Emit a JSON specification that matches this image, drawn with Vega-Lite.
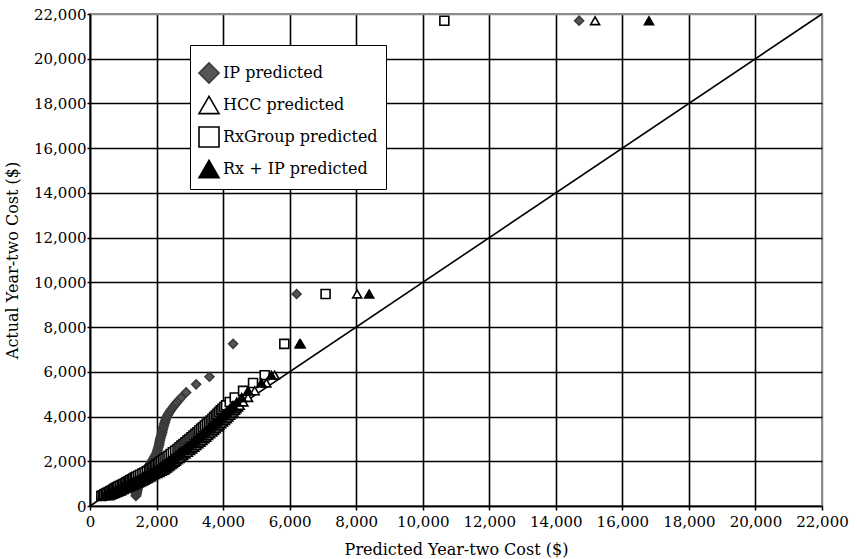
{
  "$schema": "https://vega.github.io/schema/vega-lite/v6.json",
  "width": 732,
  "height": 492,
  "autosize": {"type": "none"},
  "padding": {"left": 90, "top": 14, "right": 35, "bottom": 53},
  "background": "white",
  "config": {
    "font": "DejaVu Serif",
    "view": {"stroke": "#8c8c8c", "strokeWidth": 2}
  },
  "datasets": {
    "diag": [{"predicted": 0, "actual": 0}, {"predicted": 22000, "actual": 22000}],
    "pts": [
      {"series": "IP predicted", "actual": 450, "predicted": 1380},
      {"series": "IP predicted", "actual": 485, "predicted": 1385},
      {"series": "IP predicted", "actual": 520, "predicted": 1390},
      {"series": "IP predicted", "actual": 555, "predicted": 1395},
      {"series": "IP predicted", "actual": 590, "predicted": 1400},
      {"series": "IP predicted", "actual": 625, "predicted": 1405},
      {"series": "IP predicted", "actual": 660, "predicted": 1410},
      {"series": "IP predicted", "actual": 695, "predicted": 1415},
      {"series": "IP predicted", "actual": 730, "predicted": 1420},
      {"series": "IP predicted", "actual": 765, "predicted": 1425},
      {"series": "IP predicted", "actual": 800, "predicted": 1430},
      {"series": "IP predicted", "actual": 835, "predicted": 1435},
      {"series": "IP predicted", "actual": 870, "predicted": 1440},
      {"series": "IP predicted", "actual": 905, "predicted": 1445},
      {"series": "IP predicted", "actual": 940, "predicted": 1450},
      {"series": "IP predicted", "actual": 975, "predicted": 1457},
      {"series": "IP predicted", "actual": 1010, "predicted": 1465},
      {"series": "IP predicted", "actual": 1045, "predicted": 1472},
      {"series": "IP predicted", "actual": 1080, "predicted": 1480},
      {"series": "IP predicted", "actual": 1115, "predicted": 1490},
      {"series": "IP predicted", "actual": 1150, "predicted": 1500},
      {"series": "IP predicted", "actual": 1190, "predicted": 1515},
      {"series": "IP predicted", "actual": 1230, "predicted": 1530},
      {"series": "IP predicted", "actual": 1270, "predicted": 1545},
      {"series": "IP predicted", "actual": 1310, "predicted": 1560},
      {"series": "IP predicted", "actual": 1355, "predicted": 1580},
      {"series": "IP predicted", "actual": 1400, "predicted": 1600},
      {"series": "IP predicted", "actual": 1450, "predicted": 1620},
      {"series": "IP predicted", "actual": 1500, "predicted": 1640},
      {"series": "IP predicted", "actual": 1550, "predicted": 1665},
      {"series": "IP predicted", "actual": 1600, "predicted": 1690},
      {"series": "IP predicted", "actual": 1650, "predicted": 1710},
      {"series": "IP predicted", "actual": 1700, "predicted": 1730},
      {"series": "IP predicted", "actual": 1750, "predicted": 1750},
      {"series": "IP predicted", "actual": 1800, "predicted": 1770},
      {"series": "IP predicted", "actual": 1850, "predicted": 1795},
      {"series": "IP predicted", "actual": 1900, "predicted": 1820},
      {"series": "IP predicted", "actual": 1950, "predicted": 1840},
      {"series": "IP predicted", "actual": 2000, "predicted": 1860},
      {"series": "IP predicted", "actual": 2060, "predicted": 1885},
      {"series": "IP predicted", "actual": 2120, "predicted": 1910},
      {"series": "IP predicted", "actual": 2185, "predicted": 1935},
      {"series": "IP predicted", "actual": 2250, "predicted": 1960},
      {"series": "IP predicted", "actual": 2325, "predicted": 1985},
      {"series": "IP predicted", "actual": 2400, "predicted": 2010},
      {"series": "IP predicted", "actual": 2475, "predicted": 2025},
      {"series": "IP predicted", "actual": 2550, "predicted": 2040},
      {"series": "IP predicted", "actual": 2625, "predicted": 2055},
      {"series": "IP predicted", "actual": 2700, "predicted": 2070},
      {"series": "IP predicted", "actual": 2775, "predicted": 2080},
      {"series": "IP predicted", "actual": 2850, "predicted": 2090},
      {"series": "IP predicted", "actual": 2925, "predicted": 2100},
      {"series": "IP predicted", "actual": 3000, "predicted": 2110},
      {"series": "IP predicted", "actual": 3075, "predicted": 2125},
      {"series": "IP predicted", "actual": 3150, "predicted": 2140},
      {"series": "IP predicted", "actual": 3225, "predicted": 2155},
      {"series": "IP predicted", "actual": 3300, "predicted": 2170},
      {"series": "IP predicted", "actual": 3375, "predicted": 2180},
      {"series": "IP predicted", "actual": 3450, "predicted": 2190},
      {"series": "IP predicted", "actual": 3525, "predicted": 2205},
      {"series": "IP predicted", "actual": 3600, "predicted": 2220},
      {"series": "IP predicted", "actual": 3675, "predicted": 2235},
      {"series": "IP predicted", "actual": 3750, "predicted": 2250},
      {"series": "IP predicted", "actual": 3825, "predicted": 2265},
      {"series": "IP predicted", "actual": 3900, "predicted": 2280},
      {"series": "IP predicted", "actual": 3975, "predicted": 2305},
      {"series": "IP predicted", "actual": 4050, "predicted": 2330},
      {"series": "IP predicted", "actual": 4125, "predicted": 2360},
      {"series": "IP predicted", "actual": 4200, "predicted": 2390},
      {"series": "IP predicted", "actual": 4275, "predicted": 2425},
      {"series": "IP predicted", "actual": 4350, "predicted": 2460},
      {"series": "IP predicted", "actual": 4425, "predicted": 2500},
      {"series": "IP predicted", "actual": 4500, "predicted": 2540},
      {"series": "IP predicted", "actual": 4575, "predicted": 2580},
      {"series": "IP predicted", "actual": 4650, "predicted": 2620},
      {"series": "IP predicted", "actual": 4750, "predicted": 2680},
      {"series": "IP predicted", "actual": 4850, "predicted": 2740},
      {"series": "IP predicted", "actual": 5080, "predicted": 2890},
      {"series": "IP predicted", "actual": 5440, "predicted": 3190},
      {"series": "IP predicted", "actual": 5780, "predicted": 3590},
      {"series": "IP predicted", "actual": 7250, "predicted": 4300},
      {"series": "IP predicted", "actual": 9480, "predicted": 6210},
      {"series": "IP predicted", "actual": 21700, "predicted": 14700},

      {"series": "RxGroup predicted", "actual": 450, "predicted": 340},
      {"series": "RxGroup predicted", "actual": 485, "predicted": 385},
      {"series": "RxGroup predicted", "actual": 520, "predicted": 430},
      {"series": "RxGroup predicted", "actual": 555, "predicted": 475},
      {"series": "RxGroup predicted", "actual": 590, "predicted": 520},
      {"series": "RxGroup predicted", "actual": 625, "predicted": 565},
      {"series": "RxGroup predicted", "actual": 660, "predicted": 610},
      {"series": "RxGroup predicted", "actual": 695, "predicted": 650},
      {"series": "RxGroup predicted", "actual": 730, "predicted": 690},
      {"series": "RxGroup predicted", "actual": 765, "predicted": 730},
      {"series": "RxGroup predicted", "actual": 800, "predicted": 770},
      {"series": "RxGroup predicted", "actual": 835, "predicted": 810},
      {"series": "RxGroup predicted", "actual": 870, "predicted": 850},
      {"series": "RxGroup predicted", "actual": 905, "predicted": 900},
      {"series": "RxGroup predicted", "actual": 940, "predicted": 950},
      {"series": "RxGroup predicted", "actual": 975, "predicted": 995},
      {"series": "RxGroup predicted", "actual": 1010, "predicted": 1040},
      {"series": "RxGroup predicted", "actual": 1045, "predicted": 1085},
      {"series": "RxGroup predicted", "actual": 1080, "predicted": 1130},
      {"series": "RxGroup predicted", "actual": 1115, "predicted": 1170},
      {"series": "RxGroup predicted", "actual": 1150, "predicted": 1210},
      {"series": "RxGroup predicted", "actual": 1190, "predicted": 1255},
      {"series": "RxGroup predicted", "actual": 1230, "predicted": 1300},
      {"series": "RxGroup predicted", "actual": 1270, "predicted": 1345},
      {"series": "RxGroup predicted", "actual": 1310, "predicted": 1390},
      {"series": "RxGroup predicted", "actual": 1355, "predicted": 1450},
      {"series": "RxGroup predicted", "actual": 1400, "predicted": 1510},
      {"series": "RxGroup predicted", "actual": 1450, "predicted": 1575},
      {"series": "RxGroup predicted", "actual": 1500, "predicted": 1640},
      {"series": "RxGroup predicted", "actual": 1550, "predicted": 1705},
      {"series": "RxGroup predicted", "actual": 1600, "predicted": 1770},
      {"series": "RxGroup predicted", "actual": 1650, "predicted": 1815},
      {"series": "RxGroup predicted", "actual": 1700, "predicted": 1860},
      {"series": "RxGroup predicted", "actual": 1750, "predicted": 1905},
      {"series": "RxGroup predicted", "actual": 1800, "predicted": 1950},
      {"series": "RxGroup predicted", "actual": 1850, "predicted": 1995},
      {"series": "RxGroup predicted", "actual": 1900, "predicted": 2040},
      {"series": "RxGroup predicted", "actual": 1950, "predicted": 2085},
      {"series": "RxGroup predicted", "actual": 2000, "predicted": 2130},
      {"series": "RxGroup predicted", "actual": 2060, "predicted": 2185},
      {"series": "RxGroup predicted", "actual": 2120, "predicted": 2240},
      {"series": "RxGroup predicted", "actual": 2185, "predicted": 2300},
      {"series": "RxGroup predicted", "actual": 2250, "predicted": 2360},
      {"series": "RxGroup predicted", "actual": 2325, "predicted": 2425},
      {"series": "RxGroup predicted", "actual": 2400, "predicted": 2490},
      {"series": "RxGroup predicted", "actual": 2475, "predicted": 2560},
      {"series": "RxGroup predicted", "actual": 2550, "predicted": 2630},
      {"series": "RxGroup predicted", "actual": 2625, "predicted": 2690},
      {"series": "RxGroup predicted", "actual": 2700, "predicted": 2750},
      {"series": "RxGroup predicted", "actual": 2775, "predicted": 2810},
      {"series": "RxGroup predicted", "actual": 2850, "predicted": 2870},
      {"series": "RxGroup predicted", "actual": 2925, "predicted": 2930},
      {"series": "RxGroup predicted", "actual": 3000, "predicted": 2990},
      {"series": "RxGroup predicted", "actual": 3075, "predicted": 3050},
      {"series": "RxGroup predicted", "actual": 3150, "predicted": 3110},
      {"series": "RxGroup predicted", "actual": 3225, "predicted": 3170},
      {"series": "RxGroup predicted", "actual": 3300, "predicted": 3230},
      {"series": "RxGroup predicted", "actual": 3375, "predicted": 3285},
      {"series": "RxGroup predicted", "actual": 3450, "predicted": 3340},
      {"series": "RxGroup predicted", "actual": 3525, "predicted": 3395},
      {"series": "RxGroup predicted", "actual": 3600, "predicted": 3450},
      {"series": "RxGroup predicted", "actual": 3675, "predicted": 3510},
      {"series": "RxGroup predicted", "actual": 3750, "predicted": 3570},
      {"series": "RxGroup predicted", "actual": 3825, "predicted": 3625},
      {"series": "RxGroup predicted", "actual": 3900, "predicted": 3680},
      {"series": "RxGroup predicted", "actual": 3975, "predicted": 3730},
      {"series": "RxGroup predicted", "actual": 4050, "predicted": 3780},
      {"series": "RxGroup predicted", "actual": 4125, "predicted": 3830},
      {"series": "RxGroup predicted", "actual": 4200, "predicted": 3880},
      {"series": "RxGroup predicted", "actual": 4275, "predicted": 3930},
      {"series": "RxGroup predicted", "actual": 4350, "predicted": 3980},
      {"series": "RxGroup predicted", "actual": 4425, "predicted": 4035},
      {"series": "RxGroup predicted", "actual": 4500, "predicted": 4090},
      {"series": "RxGroup predicted", "actual": 4650, "predicted": 4200},
      {"series": "RxGroup predicted", "actual": 4850, "predicted": 4350},
      {"series": "RxGroup predicted", "actual": 5150, "predicted": 4600},
      {"series": "RxGroup predicted", "actual": 5500, "predicted": 4900},
      {"series": "RxGroup predicted", "actual": 5850, "predicted": 5250},
      {"series": "RxGroup predicted", "actual": 7250, "predicted": 5840},
      {"series": "RxGroup predicted", "actual": 9480, "predicted": 7080},
      {"series": "RxGroup predicted", "actual": 21700, "predicted": 10650},

      {"series": "HCC predicted", "actual": 450, "predicted": 570},
      {"series": "HCC predicted", "actual": 485, "predicted": 625},
      {"series": "HCC predicted", "actual": 520, "predicted": 680},
      {"series": "HCC predicted", "actual": 555, "predicted": 735},
      {"series": "HCC predicted", "actual": 590, "predicted": 790},
      {"series": "HCC predicted", "actual": 625, "predicted": 845},
      {"series": "HCC predicted", "actual": 660, "predicted": 900},
      {"series": "HCC predicted", "actual": 695, "predicted": 950},
      {"series": "HCC predicted", "actual": 730, "predicted": 1000},
      {"series": "HCC predicted", "actual": 765, "predicted": 1050},
      {"series": "HCC predicted", "actual": 800, "predicted": 1100},
      {"series": "HCC predicted", "actual": 835, "predicted": 1155},
      {"series": "HCC predicted", "actual": 870, "predicted": 1210},
      {"series": "HCC predicted", "actual": 905, "predicted": 1265},
      {"series": "HCC predicted", "actual": 940, "predicted": 1320},
      {"series": "HCC predicted", "actual": 975, "predicted": 1380},
      {"series": "HCC predicted", "actual": 1010, "predicted": 1440},
      {"series": "HCC predicted", "actual": 1045, "predicted": 1490},
      {"series": "HCC predicted", "actual": 1080, "predicted": 1540},
      {"series": "HCC predicted", "actual": 1115, "predicted": 1585},
      {"series": "HCC predicted", "actual": 1150, "predicted": 1630},
      {"series": "HCC predicted", "actual": 1190, "predicted": 1680},
      {"series": "HCC predicted", "actual": 1230, "predicted": 1730},
      {"series": "HCC predicted", "actual": 1270, "predicted": 1780},
      {"series": "HCC predicted", "actual": 1310, "predicted": 1830},
      {"series": "HCC predicted", "actual": 1355, "predicted": 1890},
      {"series": "HCC predicted", "actual": 1400, "predicted": 1950},
      {"series": "HCC predicted", "actual": 1450, "predicted": 2020},
      {"series": "HCC predicted", "actual": 1500, "predicted": 2090},
      {"series": "HCC predicted", "actual": 1550, "predicted": 2155},
      {"series": "HCC predicted", "actual": 1600, "predicted": 2220},
      {"series": "HCC predicted", "actual": 1650, "predicted": 2265},
      {"series": "HCC predicted", "actual": 1700, "predicted": 2310},
      {"series": "HCC predicted", "actual": 1750, "predicted": 2355},
      {"series": "HCC predicted", "actual": 1800, "predicted": 2400},
      {"series": "HCC predicted", "actual": 1850, "predicted": 2445},
      {"series": "HCC predicted", "actual": 1900, "predicted": 2490},
      {"series": "HCC predicted", "actual": 1950, "predicted": 2535},
      {"series": "HCC predicted", "actual": 2000, "predicted": 2580},
      {"series": "HCC predicted", "actual": 2060, "predicted": 2635},
      {"series": "HCC predicted", "actual": 2120, "predicted": 2690},
      {"series": "HCC predicted", "actual": 2185, "predicted": 2745},
      {"series": "HCC predicted", "actual": 2250, "predicted": 2800},
      {"series": "HCC predicted", "actual": 2325, "predicted": 2870},
      {"series": "HCC predicted", "actual": 2400, "predicted": 2940},
      {"series": "HCC predicted", "actual": 2475, "predicted": 3005},
      {"series": "HCC predicted", "actual": 2550, "predicted": 3070},
      {"series": "HCC predicted", "actual": 2625, "predicted": 3135},
      {"series": "HCC predicted", "actual": 2700, "predicted": 3200},
      {"series": "HCC predicted", "actual": 2775, "predicted": 3260},
      {"series": "HCC predicted", "actual": 2850, "predicted": 3320},
      {"series": "HCC predicted", "actual": 2925, "predicted": 3380},
      {"series": "HCC predicted", "actual": 3000, "predicted": 3440},
      {"series": "HCC predicted", "actual": 3075, "predicted": 3495},
      {"series": "HCC predicted", "actual": 3150, "predicted": 3550},
      {"series": "HCC predicted", "actual": 3225, "predicted": 3610},
      {"series": "HCC predicted", "actual": 3300, "predicted": 3670},
      {"series": "HCC predicted", "actual": 3375, "predicted": 3725},
      {"series": "HCC predicted", "actual": 3450, "predicted": 3780},
      {"series": "HCC predicted", "actual": 3525, "predicted": 3835},
      {"series": "HCC predicted", "actual": 3600, "predicted": 3890},
      {"series": "HCC predicted", "actual": 3675, "predicted": 3945},
      {"series": "HCC predicted", "actual": 3750, "predicted": 4000},
      {"series": "HCC predicted", "actual": 3825, "predicted": 4055},
      {"series": "HCC predicted", "actual": 3900, "predicted": 4110},
      {"series": "HCC predicted", "actual": 3975, "predicted": 4160},
      {"series": "HCC predicted", "actual": 4050, "predicted": 4210},
      {"series": "HCC predicted", "actual": 4125, "predicted": 4260},
      {"series": "HCC predicted", "actual": 4200, "predicted": 4310},
      {"series": "HCC predicted", "actual": 4275, "predicted": 4355},
      {"series": "HCC predicted", "actual": 4350, "predicted": 4400},
      {"series": "HCC predicted", "actual": 4425, "predicted": 4450},
      {"series": "HCC predicted", "actual": 4500, "predicted": 4500},
      {"series": "HCC predicted", "actual": 4650, "predicted": 4610},
      {"series": "HCC predicted", "actual": 4850, "predicted": 4750},
      {"series": "HCC predicted", "actual": 5150, "predicted": 4950},
      {"series": "HCC predicted", "actual": 5500, "predicted": 5300},
      {"series": "HCC predicted", "actual": 5850, "predicted": 5550},
      {"series": "HCC predicted", "actual": 7250, "predicted": 6300},
      {"series": "HCC predicted", "actual": 9480, "predicted": 8030},
      {"series": "HCC predicted", "actual": 21700, "predicted": 15180},

      {"series": "Rx + IP predicted", "actual": 450, "predicted": 450},
      {"series": "Rx + IP predicted", "actual": 485, "predicted": 500},
      {"series": "Rx + IP predicted", "actual": 520, "predicted": 553},
      {"series": "Rx + IP predicted", "actual": 555, "predicted": 605},
      {"series": "Rx + IP predicted", "actual": 590, "predicted": 656},
      {"series": "Rx + IP predicted", "actual": 625, "predicted": 704},
      {"series": "Rx + IP predicted", "actual": 660, "predicted": 752},
      {"series": "Rx + IP predicted", "actual": 695, "predicted": 798},
      {"series": "Rx + IP predicted", "actual": 730, "predicted": 843},
      {"series": "Rx + IP predicted", "actual": 765, "predicted": 889},
      {"series": "Rx + IP predicted", "actual": 800, "predicted": 935},
      {"series": "Rx + IP predicted", "actual": 835, "predicted": 983},
      {"series": "Rx + IP predicted", "actual": 870, "predicted": 1030},
      {"series": "Rx + IP predicted", "actual": 905, "predicted": 1083},
      {"series": "Rx + IP predicted", "actual": 940, "predicted": 1135},
      {"series": "Rx + IP predicted", "actual": 975, "predicted": 1188},
      {"series": "Rx + IP predicted", "actual": 1010, "predicted": 1240},
      {"series": "Rx + IP predicted", "actual": 1045, "predicted": 1288},
      {"series": "Rx + IP predicted", "actual": 1080, "predicted": 1336},
      {"series": "Rx + IP predicted", "actual": 1115, "predicted": 1378},
      {"series": "Rx + IP predicted", "actual": 1150, "predicted": 1420},
      {"series": "Rx + IP predicted", "actual": 1190, "predicted": 1468},
      {"series": "Rx + IP predicted", "actual": 1230, "predicted": 1516},
      {"series": "Rx + IP predicted", "actual": 1270, "predicted": 1565},
      {"series": "Rx + IP predicted", "actual": 1310, "predicted": 1613},
      {"series": "Rx + IP predicted", "actual": 1355, "predicted": 1673},
      {"series": "Rx + IP predicted", "actual": 1400, "predicted": 1733},
      {"series": "Rx + IP predicted", "actual": 1450, "predicted": 1800},
      {"series": "Rx + IP predicted", "actual": 1500, "predicted": 1867},
      {"series": "Rx + IP predicted", "actual": 1550, "predicted": 1934},
      {"series": "Rx + IP predicted", "actual": 1600, "predicted": 2000},
      {"series": "Rx + IP predicted", "actual": 1650, "predicted": 2045},
      {"series": "Rx + IP predicted", "actual": 1700, "predicted": 2089},
      {"series": "Rx + IP predicted", "actual": 1750, "predicted": 2134},
      {"series": "Rx + IP predicted", "actual": 1800, "predicted": 2178},
      {"series": "Rx + IP predicted", "actual": 1850, "predicted": 2223},
      {"series": "Rx + IP predicted", "actual": 1900, "predicted": 2267},
      {"series": "Rx + IP predicted", "actual": 1950, "predicted": 2312},
      {"series": "Rx + IP predicted", "actual": 2000, "predicted": 2356},
      {"series": "Rx + IP predicted", "actual": 2060, "predicted": 2410},
      {"series": "Rx + IP predicted", "actual": 2120, "predicted": 2464},
      {"series": "Rx + IP predicted", "actual": 2185, "predicted": 2523},
      {"series": "Rx + IP predicted", "actual": 2250, "predicted": 2582},
      {"series": "Rx + IP predicted", "actual": 2325, "predicted": 2650},
      {"series": "Rx + IP predicted", "actual": 2400, "predicted": 2718},
      {"series": "Rx + IP predicted", "actual": 2475, "predicted": 2787},
      {"series": "Rx + IP predicted", "actual": 2550, "predicted": 2855},
      {"series": "Rx + IP predicted", "actual": 2625, "predicted": 2917},
      {"series": "Rx + IP predicted", "actual": 2700, "predicted": 2979},
      {"series": "Rx + IP predicted", "actual": 2775, "predicted": 3039},
      {"series": "Rx + IP predicted", "actual": 2850, "predicted": 3098},
      {"series": "Rx + IP predicted", "actual": 2925, "predicted": 3158},
      {"series": "Rx + IP predicted", "actual": 3000, "predicted": 3217},
      {"series": "Rx + IP predicted", "actual": 3075, "predicted": 3277},
      {"series": "Rx + IP predicted", "actual": 3150, "predicted": 3337},
      {"series": "Rx + IP predicted", "actual": 3225, "predicted": 3395},
      {"series": "Rx + IP predicted", "actual": 3300, "predicted": 3452},
      {"series": "Rx + IP predicted", "actual": 3375, "predicted": 3508},
      {"series": "Rx + IP predicted", "actual": 3450, "predicted": 3564},
      {"series": "Rx + IP predicted", "actual": 3525, "predicted": 3620},
      {"series": "Rx + IP predicted", "actual": 3600, "predicted": 3676},
      {"series": "Rx + IP predicted", "actual": 3675, "predicted": 3732},
      {"series": "Rx + IP predicted", "actual": 3750, "predicted": 3788},
      {"series": "Rx + IP predicted", "actual": 3825, "predicted": 3844},
      {"series": "Rx + IP predicted", "actual": 3900, "predicted": 3900},
      {"series": "Rx + IP predicted", "actual": 3975, "predicted": 3950},
      {"series": "Rx + IP predicted", "actual": 4050, "predicted": 4000},
      {"series": "Rx + IP predicted", "actual": 4125, "predicted": 4050},
      {"series": "Rx + IP predicted", "actual": 4200, "predicted": 4100},
      {"series": "Rx + IP predicted", "actual": 4275, "predicted": 4150},
      {"series": "Rx + IP predicted", "actual": 4350, "predicted": 4200},
      {"series": "Rx + IP predicted", "actual": 4425, "predicted": 4250},
      {"series": "Rx + IP predicted", "actual": 4500, "predicted": 4300},
      {"series": "Rx + IP predicted", "actual": 4650, "predicted": 4412},
      {"series": "Rx + IP predicted", "actual": 4850, "predicted": 4560},
      {"series": "Rx + IP predicted", "actual": 5150, "predicted": 4750},
      {"series": "Rx + IP predicted", "actual": 5500, "predicted": 5150},
      {"series": "Rx + IP predicted", "actual": 5850, "predicted": 5450},
      {"series": "Rx + IP predicted", "actual": 7250, "predicted": 6330},
      {"series": "Rx + IP predicted", "actual": 9480, "predicted": 8390},
      {"series": "Rx + IP predicted", "actual": 21700, "predicted": 16800}
    ]
  },
  "encoding": {
    "x": {
      "field": "predicted",
      "type": "quantitative",
      "scale": {"domain": [0, 22000], "nice": false, "zero": true},
      "axis": {
        "title": "Predicted Year-two Cost ($)",
        "values": [0, 2000, 4000, 6000, 8000, 10000, 12000, 14000, 16000, 18000, 20000, 22000],
        "format": ",d",
        "grid": true,
        "gridColor": {"condition": {"test": "datum.value >= 22000", "value": "#8c8c8c"}, "value": "black"},
        "gridWidth": 1.6,
        "domainColor": "black",
        "domainWidth": 1.6,
        "tickColor": "black",
        "tickSize": 4,
        "tickWidth": 1.5,
        "labelFlush": false,
        "labelOverlap": false,
        "labelFont": "DejaVu Serif",
        "labelFontSize": 15,
        "labelColor": "black",
        "labelPadding": 4,
        "titleFont": "DejaVu Serif",
        "titleFontSize": 16,
        "titleFontWeight": "normal",
        "titleColor": "black",
        "titlePadding": 12
      }
    },
    "y": {
      "field": "actual",
      "type": "quantitative",
      "scale": {"domain": [0, 22000], "nice": false, "zero": true},
      "axis": {
        "title": "Actual Year-two Cost ($)",
        "values": [0, 2000, 4000, 6000, 8000, 10000, 12000, 14000, 16000, 18000, 20000, 22000],
        "format": ",d",
        "grid": true,
        "gridColor": {"condition": {"test": "datum.value >= 22000", "value": "#8c8c8c"}, "value": "black"},
        "gridWidth": 1.6,
        "domainColor": "black",
        "domainWidth": 1.6,
        "tickColor": "black",
        "tickSize": 3,
        "tickWidth": 1.5,
        "labelFlush": false,
        "labelOverlap": false,
        "labelFont": "DejaVu Serif",
        "labelFontSize": 15,
        "labelColor": "black",
        "labelPadding": 1,
        "titleFont": "DejaVu Serif",
        "titleFontSize": 16,
        "titleFontWeight": "normal",
        "titleColor": "black",
        "titlePadding": 13
      }
    }
  },
  "layer": [
    {
      "data": {"name": "diag"},
      "mark": {"type": "line", "color": "black", "strokeWidth": 1.6}
    },
    {
      "data": {"name": "pts"},
      "mark": {"type": "point", "filled": true, "size": 80, "strokeWidth": 1.6, "opacity": 1},
      "encoding": {
        "shape": {
          "field": "series",
          "type": "nominal",
          "scale": {
            "domain": ["IP predicted", "HCC predicted", "RxGroup predicted", "Rx + IP predicted"],
            "range": ["diamond", "triangle-up", "square", "triangle-up"]
          },
          "legend": {
            "title": " ",
            "titleFontSize": 8,
            "titlePadding": 1,
            "orient": "none",
            "legendX": 100,
            "legendY": 31,
            "strokeColor": "black",
            "fillColor": "white",
            "padding": 8,
            "rowPadding": 6,
            "symbolSize": 400,
            "symbolStrokeWidth": 1.6,
            "labelFont": "DejaVu Serif",
            "labelFontSize": 16,
            "labelColor": "black",
            "labelOffset": 3,
            "labelLimit": 300,
            "encode": {"legend": {"update": {"strokeWidth": {"value": 2}}}}
          }
        },
        "fill": {
          "field": "series",
          "type": "nominal",
          "scale": {
            "domain": ["IP predicted", "HCC predicted", "RxGroup predicted", "Rx + IP predicted"],
            "range": ["#555555", "#ffffff", "#ffffff", "#000000"]
          },
          "legend": {
            "title": " ",
            "orient": "none",
            "legendX": 100,
            "legendY": 31
          }
        },
        "stroke": {
          "field": "series",
          "type": "nominal",
          "scale": {
            "domain": ["IP predicted", "HCC predicted", "RxGroup predicted", "Rx + IP predicted"],
            "range": ["#3a3a3a", "#000000", "#000000", "#000000"]
          },
          "legend": {
            "title": " ",
            "orient": "none",
            "legendX": 100,
            "legendY": 31
          }
        }
      }
    }
  ]
}
